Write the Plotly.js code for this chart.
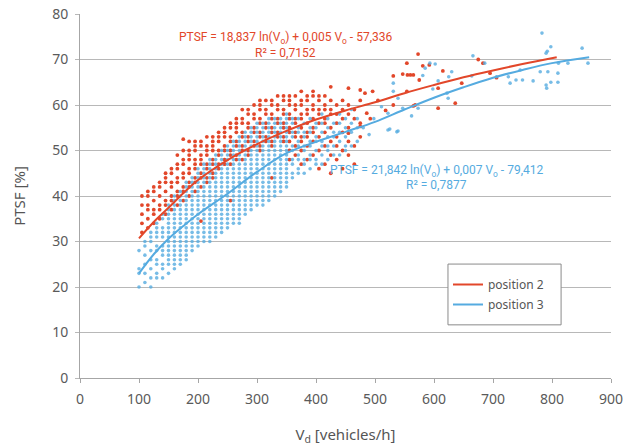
<!DOCTYPE html>
<html>
<head>
<meta charset="utf-8">
<script src="https://cdn.plot.ly/plotly-3.0.1.min.js"></script>
<style>html,body{margin:0;padding:0;background:#fff;}#chart{width:630px;height:447px;}</style>
</head>
<body>
<div id="chart"></div>
<script>
// ---- position 3 (blue) measurements, read column by column ----
const blueColX = [100,110,120,130,140,150,160,170,180,190,200,210,220,230,240,250,260,270,280,290,300,310,320,330,340,350,360,370,380,390,400,410,420,430,440,450,460,470];
const blueColY = [
  [20,23,24,28],
  [21,23,25,27,29,30],
  [20,22,24,26,28,30,31,32],
  [22,23,25,26,28,29,31,32,33,34],
  [22,24,25,27,28,29,31,32,33,35,36],
  [23,25,26,27,28,29,30,31,32,33,34,35,36,37,38],
  [24,25,26,27,28,29,30,31,32,33,34,35,36,37,38,39,40],
  [25,26,27,28,29,30,31,32,33,34,35,36,37,38,39,40,41],
  [26,27,28,29,30,31,32,33,34,35,36,37,38,39,40,41,42,43],
  [28,29,30,31,32,33,34,35,36,37,38,39,40,41,42,43,44],
  [29,30,31,32,33,34,35,36,37,38,39,40,41,42,43,44,45,46],
  [30,31,32,33,34,35,36,37,38,39,40,41,42,43,44,45,46,47],
  [30,31,32,33,34,35,36,37,38,39,40,41,42,43,44,45,46,47,48],
  [31,32,33,34,35,36,37,38,39,40,41,42,43,44,45,46,47,48,49],
  [32,33,34,35,36,37,38,39,40,41,42,43,44,45,46,47,48,49,50],
  [33,34,35,36,37,38,39,40,41,42,43,44,45,46,47,48,49,50,51],
  [34,35,36,37,38,39,40,41,42,43,44,45,46,47,48,49,50,51,52],
  [34,35,36,37,38,39,40,41,42,43,44,45,46,47,48,49,50,51,52,53],
  [36,37,38,39,40,41,42,43,44,45,46,47,48,49,50,51,52,53,54],
  [37,38,39,40,41,42,43,44,45,46,47,48,49,50,51,52,53,54,55],
  [38,39,40,41,42,43,44,45,46,47,48,49,50,51,52,53,54,55,56],
  [38,39,40,41,42,43,44,45,46,47,48,49,50,51,52,53,54,55,56],
  [39,40,41,42,43,44,45,46,47,48,49,50,51,52,53,54,55,56,57],
  [40,41,42,43,44,45,46,47,48,49,50,51,52,53,54,55,56,57],
  [41,42,43,44,45,46,47,48,49,50,51,52,53,54,55,56,57],
  [42,43,44,45,46,47,48,49,50,51,52,53,54,55,56,57,58],
  [44,45,47,48,50,51,53,54,56,57],
  [45,46,48,49,51,52,54,55,57],
  [45,47,48,50,51,53,54,56],
  [46,48,49,51,52,54,55,57],
  [47,48,50,52,53,55,56],
  [47,49,51,52,54,56,58],
  [48,50,51,53,55,57],
  [49,51,53,54,56],
  [49,52,54,56,58],
  [50,51,53,55,57],
  [51,54,56,59],
  [52,55,57]
];
const blueExtraX = [480,490,498,511,522,522,525,531,531,537,539,539,547,562,573,581,585,593,598,602,607,622,624,625,630,664,666,686,706,726,729,739,746,750,768,780,783,790,792,790,791,793,798,798,810,810,811,827,851,861];
const blueExtraY = [55,53.5,57,59.6,58.2,54.5,54.7,64.8,63,54.1,61.5,54.3,59.3,57.6,59.3,66.5,68.1,69.2,63.5,69,65.3,62.6,61.5,66.2,67.3,66.4,70.8,69.2,66.2,66.2,64.8,65.5,67.7,65.5,65.3,67.3,75.8,71.4,71.8,64.4,63.7,67.3,72.8,65,67,65,69.2,69.2,72.5,69.2];

// ---- position 2 (red) measurements ----
const redColX = [105,115,125,135,145,155,165,175,185,195,205,215,225,235,245,255,265,275,285,295,305,315,325,335,345,355,365,375,385,395,405,415,425,435,445,455,465,475];
const redColY = [
  [32,34,36,38,40],
  [33,35,37,38,40,41],
  [34,36,37,39,41,42],
  [35,37,38,40,42,43],
  [36,38,39,41,43,44,45],
  [37,39,40,42,43,45,46],
  [38,40,41,43,44,46,47,49],
  [39,41,42,44,45,47,48,50,52.5],
  [40,42,43,45,46,48,49,50,52],
  [41,43,44,46,47,48,50,51,52],
  [34.5,42,44,45,47,48,49,51,52],
  [43,44,46,47,49,50,51,53],
  [44,45,47,48,50,51,52,53],
  [46,47,49,50,52,53,54],
  [47,48,50,51,53,54,55],
  [39,47,49,50,52,53,55,56],
  [48,49,51,52,54,55,56,57],
  [48,50,51,53,54,56,57,59],
  [49,50,52,53,55,56,58,59],
  [51,52,54,55,57,58,60],
  [50,51,53,54,56,57,59,60,61],
  [52,53,55,56,58,59,61],
  [44,51,52,54,55,57,58,60,61],
  [53,54,56,57,59,60,62],
  [52,53,55,56,58,59,61,62],
  [48,50,52,54,55,57,58,60,61,62],
  [49,51,53,54,56,57,59,60,62],
  [47,50,52,53,55,57,58,60,61,63],
  [48,51,53,54,56,58,59,61,62],
  [49,52,54,55,57,59,60,62,63],
  [46,50,53,56,58,59,61,62],
  [47,51,54,56,57,59,60,62],
  [45,49,52,55,58,59,61,64],
  [48,51,53,56,58,60],
  [46,50,54,57,59,61],
  [49,52,53.8,55,58,60,63.7],
  [47,51,57,59],
  [53,55.3,56,61,63.3]
];
const redExtraX = [483,486,492,496,505,518,531,531,547,554,554,555,560,565,565,568,573,575,581,592,607,607,615,636,647,675,683,695,706];
const redExtraY = [62.6,58.2,57,63,61,58.8,60,66.4,66.8,69.2,63,66.6,66.6,66.6,59.8,60,71.2,65.5,68.6,68.8,63.7,59.3,67.5,60.4,64.8,70,69.2,67,66];

// ---- fitted trend curves as drawn ----
const redCurveX = [100,125,150,175,200,250,300,350,400,450,500,550,600,650,700,750,808];
const redCurveY = [30.7,34.3,37.4,40.6,43.5,47.9,51.4,54.3,56.8,58.8,60.6,62.6,64.4,66.1,67.6,69.0,70.5];
const blueCurveX = [100,125,150,175,200,250,300,350,400,450,500,550,600,650,700,750,800,863];
const blueCurveY = [23.0,27.2,30.6,33.4,36.0,40.5,45.3,49.4,51.9,54.1,56.3,59.0,61.6,63.9,66.0,67.7,69.2,70.5];

const seriesNames = ["position 2", "position 3"];
const redEq = "PTSF = 18,837 ln(V<sub>o</sub>) + 0,005 V<sub>o</sub> - 57,336";
const redR2 = "R² = 0,7152";
const blueEq = "PTSF = 21,842 ln(V<sub>o</sub>) + 0,007 V<sub>o</sub> - 79,412";
const blueR2 = "R² = 0,7877";

function flatten(colX, colY, exX, exY) {
  const xs = [], ys = [];
  colX.forEach((x, i) => colY[i].forEach(y => { xs.push(x); ys.push(y); }));
  exX.forEach((x, i) => { xs.push(x); ys.push(exY[i]); });
  return [xs, ys];
}
const [bx, by] = flatten(blueColX, blueColY, blueExtraX, blueExtraY);
const [rx, ry] = flatten(redColX, redColY, redExtraX, redExtraY);

const RED = '#e2472a';
const BLUE = '#55abe0';

const data = [
  {x: rx, y: ry, type: 'scatter', mode: 'markers', showlegend: false, hoverinfo: 'skip',
   marker: {color: RED, size: 3.8}},
  {x: bx, y: by, type: 'scatter', mode: 'markers', showlegend: false, hoverinfo: 'skip',
   marker: {color: BLUE, size: 3.6, opacity: 0.8}},
  {x: redCurveX, y: redCurveY, type: 'scatter', mode: 'lines', name: seriesNames[0], legendgroup: 'a',
   line: {color: RED, width: 2, shape: 'spline'}},
  {x: blueCurveX, y: blueCurveY, type: 'scatter', mode: 'lines', name: seriesNames[1], legendgroup: 'b',
   line: {color: BLUE, width: 2, shape: 'spline'}}
];

const tickFont = {family: 'Noto Sans, sans-serif', size: 14, color: '#5a5a5a'};
const layout = {
  width: 630, height: 447,
  margin: {l: 80, r: 19, t: 14, b: 69},
  paper_bgcolor: '#ffffff', plot_bgcolor: '#ffffff',
  font: {family: 'Noto Sans, sans-serif', color: '#555555'},
  xaxis: {
    range: [0, 900], tick0: 0, dtick: 100, showgrid: false, zeroline: false,
    showline: true, linecolor: '#a6a6a6', linewidth: 1,
    ticks: 'outside', ticklen: 4, tickcolor: '#a6a6a6',
    tickfont: tickFont, ticklabelstandoff: 4,
    title: {text: 'V<sub>d</sub> [vehicles/h]', font: {family: 'Noto Sans, sans-serif', size: 15, color: '#555555'}, standoff: 22}
  },
  yaxis: {
    range: [0, 80], tick0: 0, dtick: 10, showgrid: true, gridcolor: '#b8b8b8', gridwidth: 1, zeroline: false,
    showline: true, linecolor: '#a6a6a6', linewidth: 1,
    ticks: 'outside', ticklen: 4, tickcolor: '#b8b8b8',
    tickfont: tickFont, ticklabelstandoff: 4,
    title: {text: 'PTSF [%]', font: {family: 'Noto Sans, sans-serif', size: 15, color: '#555555'}, standoff: 22}
  },
  legend: {
    x: 0.693, y: 0.2967, xanchor: 'left', yanchor: 'top',
    bgcolor: 'rgba(0,0,0,0)', borderwidth: 0,
    font: {family: 'Noto Sans, sans-serif', size: 12, color: '#555555'},
    traceorder: 'grouped', tracegroupgap: 1, itemwidth: 30
  },
  shapes: [
    {type: 'rect', xref: 'paper', yref: 'paper', x0: 0.693, x1: 0.906, y0: 0.146, y1: 0.313,
     line: {color: '#8a8a8a', width: 1}, fillcolor: '#ffffff', layer: 'above'}
  ],
  annotations: [
    {x: 348, y: 74.7, xref: 'x', yref: 'y', text: redEq, showarrow: false,
     font: {family: 'Roboto, sans-serif', size: 12, color: RED}},
    {x: 348, y: 71.4, xref: 'x', yref: 'y', text: redR2, showarrow: false,
     font: {family: 'Roboto, sans-serif', size: 12, color: RED}},
    {x: 605, y: 45.5, xref: 'x', yref: 'y', text: blueEq, showarrow: false,
     font: {family: 'Roboto, sans-serif', size: 12, color: BLUE}},
    {x: 605, y: 42.4, xref: 'x', yref: 'y', text: blueR2, showarrow: false,
     font: {family: 'Roboto, sans-serif', size: 12, color: BLUE}}
  ]
};

Plotly.newPlot('chart', data, layout, {displayModeBar: false, staticPlot: true});
</script>
</body>
</html>
